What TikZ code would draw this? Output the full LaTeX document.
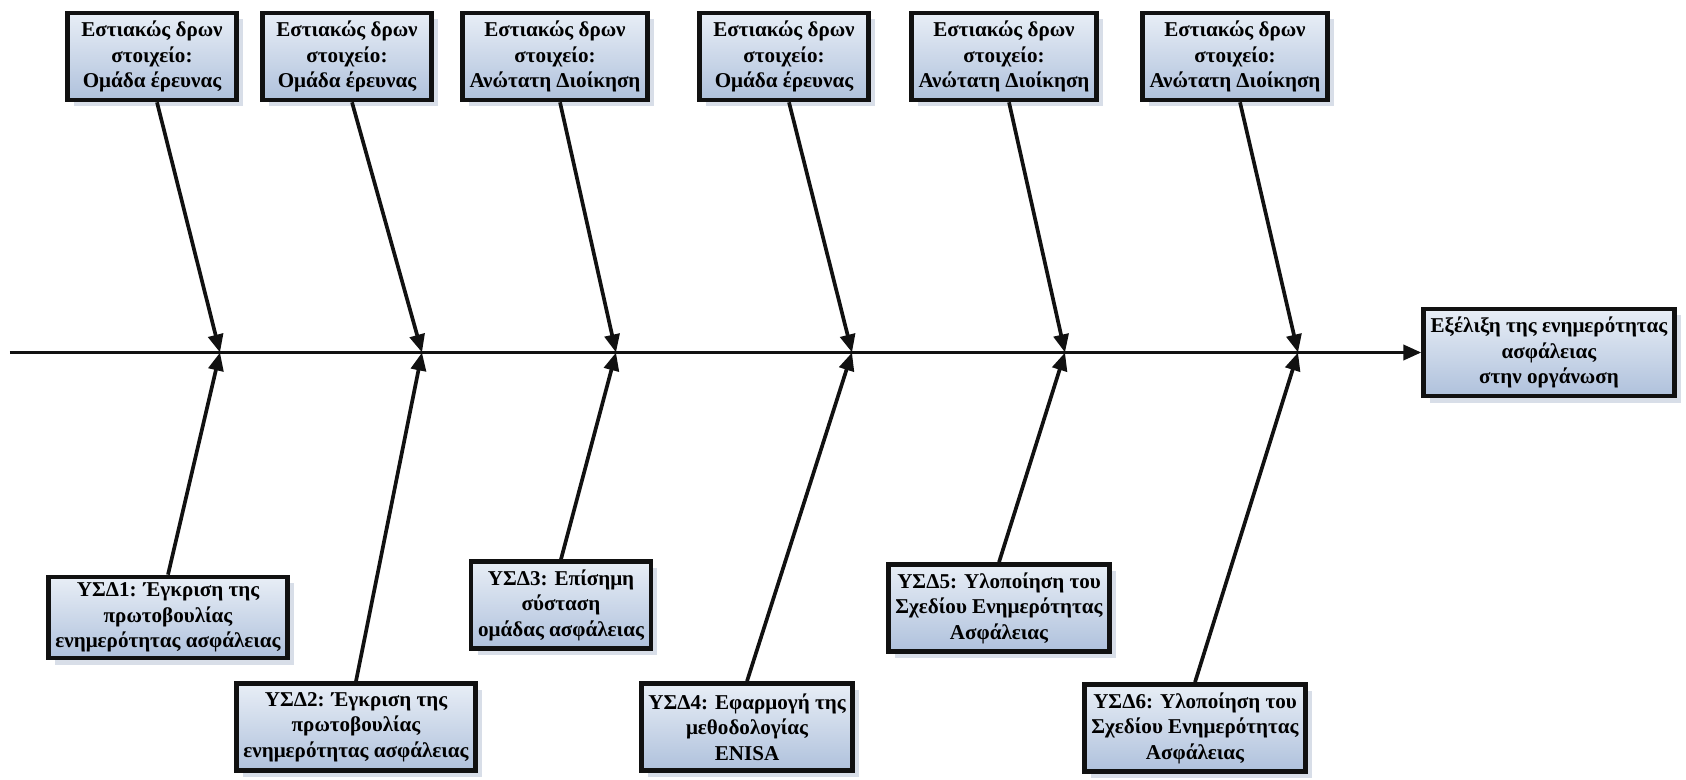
\documentclass[tikz,border=0pt]{standalone}
\usepackage{fontspec}
\setmainfont{Liberation Serif}
\usetikzlibrary{arrows.meta,shadows}
\definecolor{box-top}{HTML}{E8EEF6}
\definecolor{box-bottom}{HTML}{AFC1DC}
\definecolor{box-shadow}{HTML}{D8DEE8}
\definecolor{jet}{HTML}{111111}

\begin{document}
\begin{tikzpicture}[every node/.style={font=\fontsize{12}{14.5}\selectfont\bfseries},
    factor/.style={draw=jet, line width=2.6pt, top color=box-top, bottom color=box-bottom,
      align=center, inner xsep=4pt, minimum width=3.38cm, minimum height=1.74cm,
      drop shadow={shadow xshift=0.13cm, shadow yshift=-0.13cm, fill=box-shadow, opacity=1}},
    bone/.style={draw=jet, line width=2.1pt, -{Triangle[length=3.6mm,width=3mm]}}]
    \useasboundingbox (0,0) rectangle (33.72,15.58);
    % result and spine
    \node[factor] (effect) at (30.98,8.53) {Εξέλιξη της ενημερότητας\\ασφάλειας\\στην οργάνωση};
    \coordinate (tail) at (0.2,8.53);
    \draw[bone] (tail) -- (effect.west);
    \coordinate (j1) at (4.40,8.53);
    \coordinate (j2) at (8.44,8.53);
    \coordinate (j3) at (12.32,8.53);
    \coordinate (j4) at (17.04,8.53);
    \coordinate (j5) at (21.30,8.53);
    \coordinate (j6) at (25.96,8.53);
    % focal elements (top)
    \node[factor] (t1) at (3.04,14.45) {Εστιακώς δρων\\στοιχείο:\\Ομάδα έρευνας};
    \node[factor] (t2) at (6.94,14.45) {Εστιακώς δρων\\στοιχείο:\\Ομάδα έρευνας};
    \node[factor] (t3) at (11.10,14.45) {Εστιακώς δρων\\στοιχείο:\\Ανώτατη Διοίκηση};
    \node[factor] (t4) at (15.68,14.45) {Εστιακώς δρων\\στοιχείο:\\Ομάδα έρευνας};
    \node[factor] (t5) at (20.08,14.45) {Εστιακώς δρων\\στοιχείο:\\Ανώτατη Διοίκηση};
    \node[factor] (t6) at (24.70,14.45) {Εστιακώς δρων\\στοιχείο:\\Ανώτατη Διοίκηση};
    % critical success factors (bottom)
    \node[factor, minimum height=1.6cm] (b1) at (3.36,3.23) {ΥΣΔ1: Έγκριση της\\πρωτοβουλίας\\ενημερότητας ασφάλειας};
    \node[factor] (b2) at (7.12,1.04) {ΥΣΔ2: Έγκριση της\\πρωτοβουλίας\\ενημερότητας ασφάλειας};
    \node[factor] (b3) at (11.22,3.48) {ΥΣΔ3: Επίσημη\\σύσταση\\ομάδας ασφάλειας};
    \node[factor] (b4) at (14.94,1.04) {ΥΣΔ4: Εφαρμογή της\\μεθοδολογίας\\ENISA};
    \node[factor] (b5) at (19.98,3.42) {ΥΣΔ5: Υλοποίηση του\\Σχεδίου Ενημερότητας\\Ασφάλειας};
    \node[factor] (b6) at (23.90,1.02) {ΥΣΔ6: Υλοποίηση του\\Σχεδίου Ενημερότητας\\Ασφάλειας};
    % bones
    \foreach \i in {1,...,6} {
      \draw[bone] ([xshift=1mm]t\i.south) -- (j\i);
      \draw[bone] (b\i.north) -- (j\i);
    }
\end{tikzpicture}
\end{document}
